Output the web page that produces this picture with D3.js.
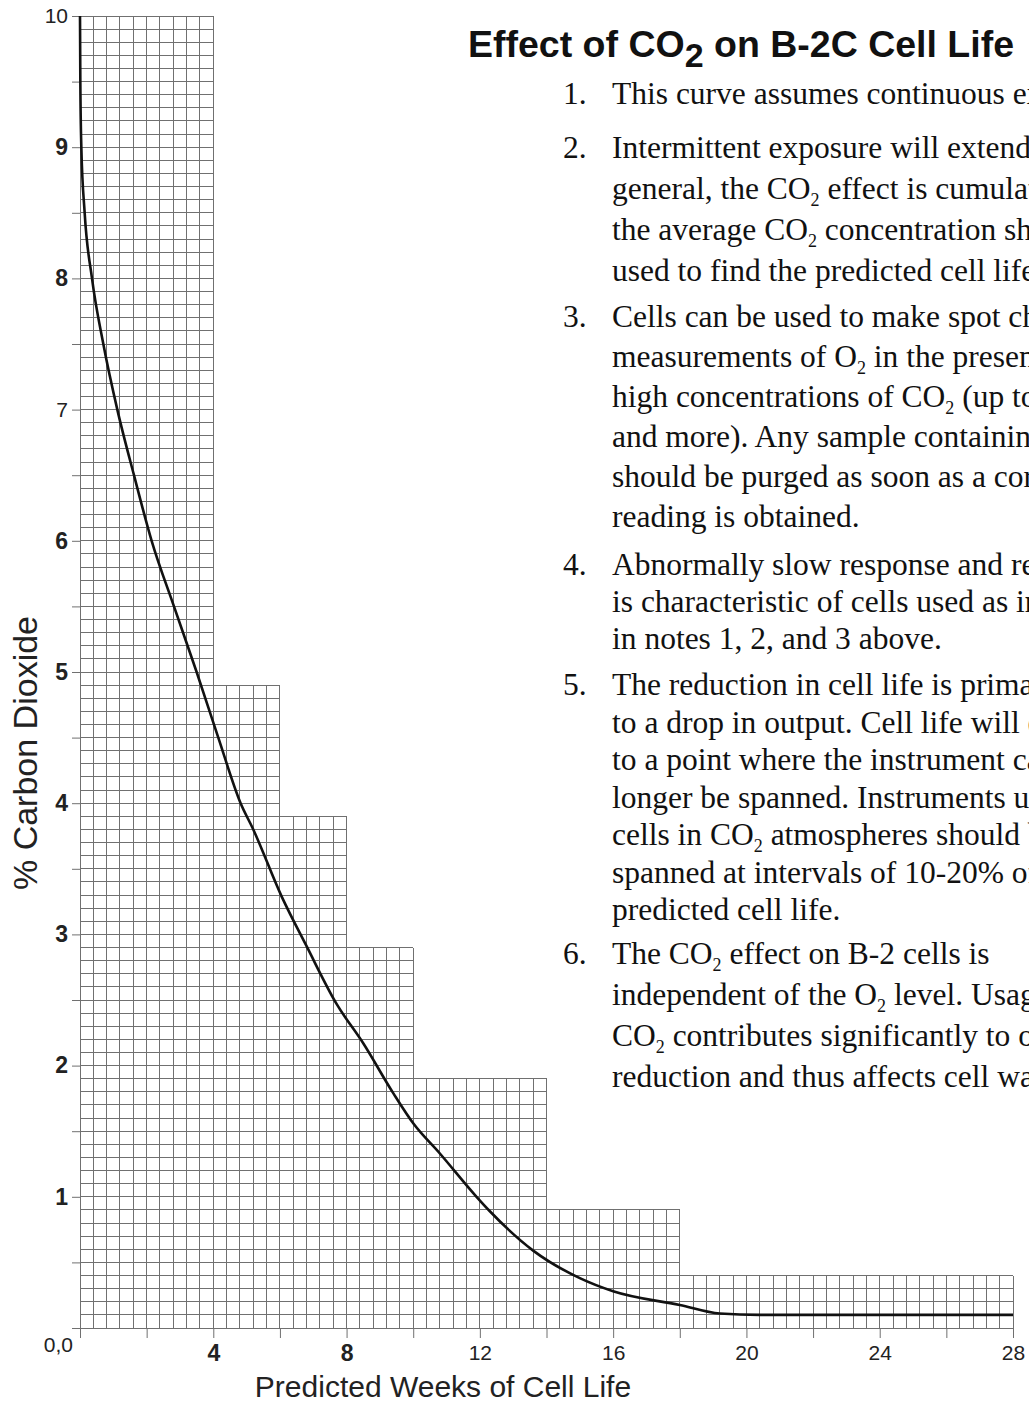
<!DOCTYPE html>
<html lang="en">
<head>
    <meta charset="UTF-8">
    <title>Effect of CO2 on B-2C Cell Life</title>
    <style>
        body { margin: 0; background: #fff; }
        svg { display: block; overflow: hidden; }
        .tick text { font-family: "Liberation Sans", Arial, sans-serif; font-size: 20px; fill: #222; }
        .notes text { font-family: "Liberation Serif", "Times New Roman", serif; font-size: 31.5px; fill: #111; }
    </style>
</head>
<body>
    <script src="https://d3js.org/d3.v7.min.js"></script>
    <script>
        // curve
        const weeks = [0, 0.01, 0.04, 0.14, 0.36, 0.70, 1.12, 1.62, 2.15, 2.82, 3.50, 4.15, 4.82, 5.20, 6.05, 6.80, 7.70, 8.50, 9.40, 10.0, 10.8, 11.9, 12.3, 13.6, 15.0, 16.0, 18.0, 19.2, 20.4, 28];
        const co2 = [10, 9.5, 9.0, 8.5, 8.0, 7.5, 7.0, 6.5, 6.0, 5.5, 5.0, 4.5, 4.0, 3.80, 3.29, 2.91, 2.47, 2.17, 1.79, 1.56, 1.33, 1.0, 0.89, 0.59, 0.38, 0.28, 0.175, 0.11, 0.10, 0.10];

        // stepped grid paper
        const stepStart = [0, 4, 6, 8, 10, 14, 18];
        const stepEnd = [4, 6, 8, 10, 14, 18, 28];
        const stepTop = [10, 4.9, 3.9, 2.9, 1.9, 0.9, 0.4];

        const yTicks = d3.range(0, 10.01, 0.5);
        const yBold = [1, 2, 3, 4, 5, 6, 8, 9];
        const xTicks = d3.range(0, 28.01, 2);
        const xBold = [4, 8];

        const notes = [
            ["This curve assumes continuous exposure."],
            ["Intermittent exposure will extend cell life. In",
             "general, the CO_2 effect is cumulative, and",
             "the average CO_2 concentration should be",
             "used to find the predicted cell life."],
            ["Cells can be used to make spot check",
             "measurements of O_2 in the presence of",
             "high concentrations of CO_2 (up to 100%",
             "and more). Any sample containing CO2",
             "should be purged as soon as a correct",
             "reading is obtained."],
            ["Abnormally slow response and recovery",
             "is characteristic of cells used as indicated",
             "in notes 1, 2, and 3 above."],
            ["The reduction in cell life is primarily due",
             "to a drop in output. Cell life will end",
             "to a point where the instrument can no",
             "longer be spanned. Instruments using",
             "cells in CO_2 atmospheres should be",
             "spanned at intervals of 10-20% of the",
             "predicted cell life."],
            ["The CO_2 effect on B-2 cells is",
             "independent of the O_2 level. Usage in",
             "CO_2 contributes significantly to output",
             "reduction and thus affects cell warranty."]
        ];
        // line spacing of each note and the gap before it
        const noteLeading = [37, 41, 40, 37, 37.5, 41];
        const noteGap = [0, 54, 46, 48, 46, 44];

        const width = 1029, height = 1402;
        const svg = d3.select("body").append("svg")
            .attr("width", width).attr("height", height);

        const x = d3.scaleLinear().domain([0, 28]).range([80, 1013]);
        const y = d3.scaleLinear().domain([0, 10]).range([1328, 16]);

        // grid
        const grid = svg.append("g").attr("stroke", "#707070").attr("stroke-width", 1).attr("shape-rendering", "crispEdges");
        stepStart.forEach((s, i) => {
            const nCols = Math.round((stepEnd[i] - s) / 0.4);
            const nRows = Math.round(stepTop[i] / 0.1);
            d3.range(nCols + 1).forEach(c => {
                const wx = s + c * 0.4;
                grid.append("line")
                    .attr("x1", x(wx)).attr("x2", x(wx))
                    .attr("y1", y(0)).attr("y2", y(stepTop[i]));
            });
            d3.range(nRows + 1).forEach(r => {
                const vy = r / 10;
                grid.append("line")
                    .attr("x1", x(s)).attr("x2", x(stepEnd[i]))
                    .attr("y1", y(vy)).attr("y2", y(vy));
            });
        });

        // axes
        const yAxis = svg.append("g")
            .attr("transform", `translate(${x(0)},0)`)
            .call(d3.axisLeft(y).tickValues(yTicks).tickSize(8).tickPadding(4)
                .tickFormat(d => Number.isInteger(d) && d > 0 ? d : ""));
        yAxis.select(".domain").remove();
        yAxis.selectAll(".tick line").attr("stroke", "#707070");
        yAxis.selectAll(".tick text")
            .style("font-weight", d => yBold.includes(d) ? "bold" : "normal")
            .style("font-size", d => yBold.includes(d) ? "23px" : "21px");

        const xAxis = svg.append("g")
            .attr("transform", `translate(0,${y(0)})`)
            .call(d3.axisBottom(x).tickValues(xTicks).tickSize(10).tickPadding(7)
                .tickFormat(d => d > 0 && d % 4 === 0 ? d : ""));
        xAxis.select(".domain").remove();
        xAxis.selectAll(".tick line").attr("stroke", "#707070");
        xAxis.selectAll(".tick text")
            .style("font-weight", d => xBold.includes(d) ? "bold" : "normal")
            .style("font-size", d => xBold.includes(d) ? "23px" : "21px");

        svg.append("text")
            .attr("x", 73).attr("y", 1352)
            .attr("text-anchor", "end")
            .style("font-family", "Liberation Sans, Arial, sans-serif")
            .style("font-size", "21px").style("fill", "#222")
            .text("0,0");

        // curve
        const line = d3.line()
            .x(d => x(d[0])).y(d => y(d[1]))
            .curve(d3.curveMonotoneX);
        svg.append("path")
            .datum(weeks.map((w, i) => [w, co2[i]]))
            .attr("d", line)
            .attr("fill", "none")
            .attr("stroke", "#111")
            .attr("stroke-width", 2.6)
            .attr("stroke-linejoin", "round");

        // axis titles
        svg.append("text")
            .attr("x", 443).attr("y", 1397)
            .attr("text-anchor", "middle")
            .style("font-family", "Liberation Sans, Arial, sans-serif")
            .style("font-size", "30px").style("fill", "#222")
            .text("Predicted Weeks of Cell Life");
        svg.append("text")
            .attr("transform", "translate(37,753) rotate(-90)")
            .attr("text-anchor", "middle")
            .style("font-family", "Liberation Sans, Arial, sans-serif")
            .style("font-size", "34px").style("fill", "#222")
            .text("% Carbon Dioxide");

        // title
        const title = svg.append("text")
            .attr("x", 468).attr("y", 57)
            .style("font-family", "Liberation Sans, Arial, sans-serif")
            .style("font-size", "37.5px").style("font-weight", "bold").style("fill", "#111");
        title.append("tspan").text("Effect of CO");
        title.append("tspan").attr("dy", 10).style("font-size", "34px").text("2");
        title.append("tspan").attr("dy", -10).text(" on B-2C Cell Life");

        // notes
        const g = svg.append("g").attr("class", "notes");
        let by = 104;
        notes.forEach((para, pi) => {
            by += noteGap[pi];
            para.forEach((ln, li) => {
                if (li > 0) by += noteLeading[pi];
                if (li === 0) {
                    g.append("text").attr("x", 563).attr("y", by).text((pi + 1) + ".");
                }
                const t = g.append("text").attr("x", 612).attr("y", by);
                ln.split("_2").forEach((part, k) => {
                    if (k > 0) {
                        t.append("tspan").attr("dy", 7).style("font-size", "18px").text("2");
                        t.append("tspan").attr("dy", -7).text(part);
                    } else {
                        t.append("tspan").text(part);
                    }
                });
            });
        });
    </script>
</body>
</html>
